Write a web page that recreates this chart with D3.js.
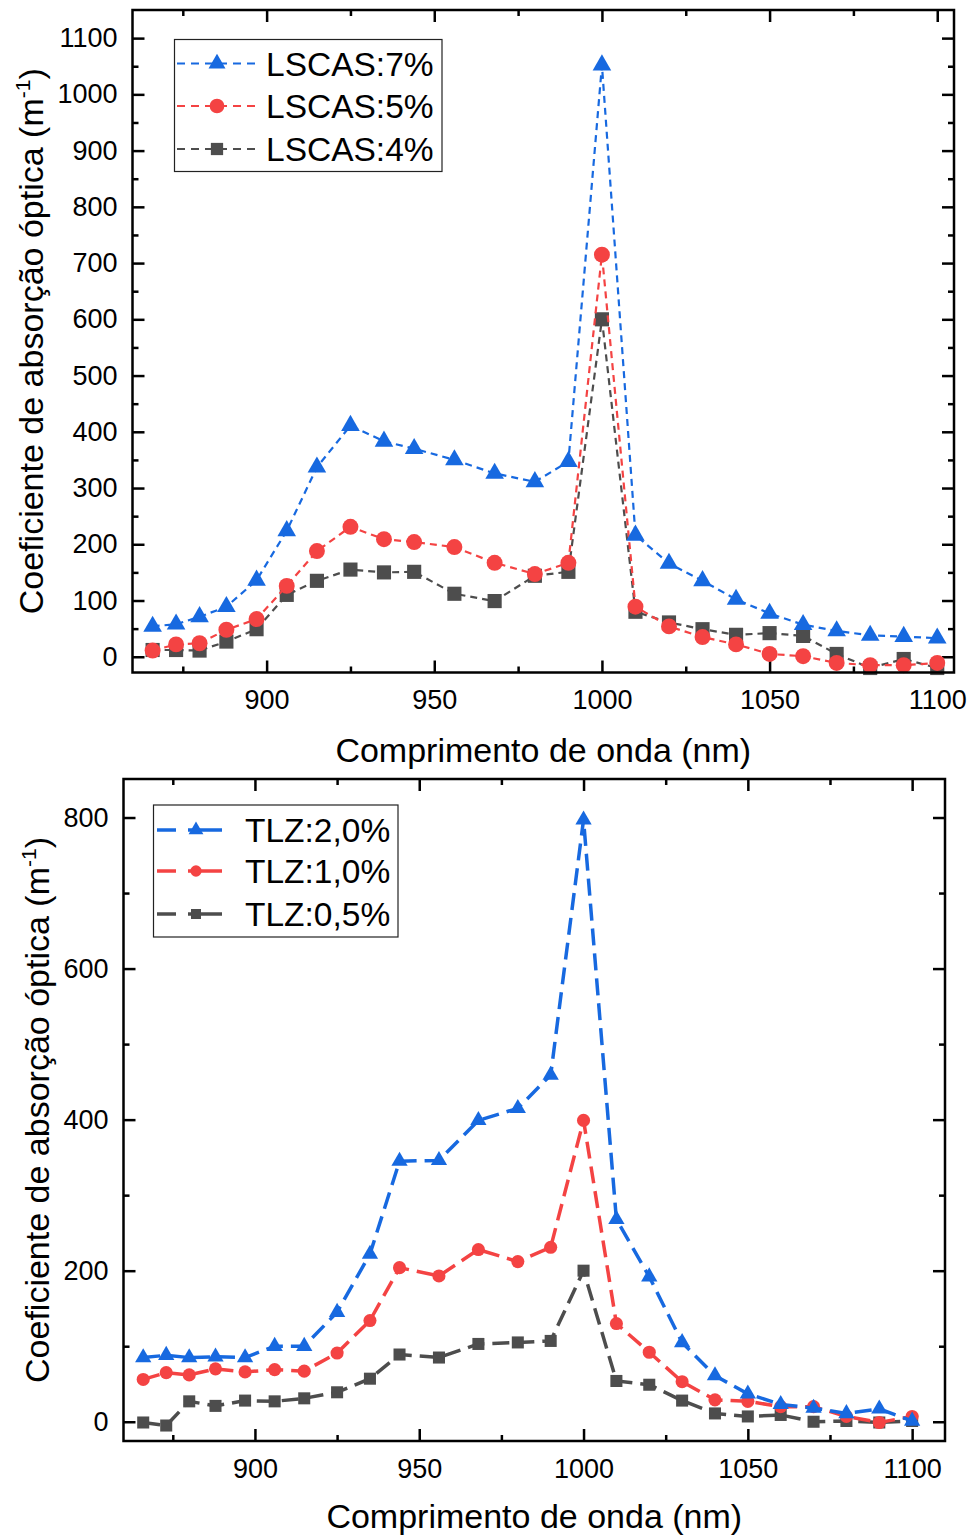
<!DOCTYPE html>
<html lang="pt">
<head>
<meta charset="UTF-8">
<title>Coeficiente de absorção óptica</title>
<script src="https://d3js.org/d3.v7.min.js"></script>
<style>
  body { margin: 0; background: #fff; }
  svg { display: block; font-family: "Liberation Sans", Arial, sans-serif; }
  .tick text { font-family: "Liberation Sans", Arial, sans-serif; }
</style>
</head>
<body>
<svg id="chart"></svg>
<script>
const width = 973, height = 1539;

// ==== data ====
const wavelengths = [866, 873, 880, 888, 897, 906, 915, 925, 935, 944, 956, 968, 980, 990,
  1000, 1010, 1020, 1030, 1040, 1050, 1060, 1070, 1080, 1090, 1100];

const lscasNames = ["LSCAS:7%", "LSCAS:5%", "LSCAS:4%"];
const lscas7 = [54, 58, 71, 89, 136, 224, 337, 411, 383, 370, 350, 326, 311, 347,
  1052, 216, 166, 135, 102, 77, 57, 46, 38, 36, 33];
const lscas5 = [11, 22, 24, 48, 67, 126, 188, 231, 209, 204, 195, 167, 147, 167,
  715, 89, 54, 35, 22, 5, 1, -11, -15, -15, -11];
const lscas4 = [12, 12, 11, 27, 49, 110, 135, 155, 150, 151, 112, 99, 144, 151,
  600, 80, 61, 49, 39, 42, 37, 5, -20, -4, -20];

const tlzNames = ["TLZ:2,0%", "TLZ:1,0%", "TLZ:0,5%"];
const tlz20 = [85, 88, 85, 86, 85, 100, 100, 145, 222, 345, 346, 399, 415, 459,
  797, 268, 192, 105, 61, 37, 23, 18, 11, 17, 1];
const tlz10 = [56, 65, 62, 70, 66, 69, 67, 91, 134, 204, 193, 228, 212, 231,
  399, 130, 92, 53, 29, 27, 20, 20, 7, -1, 7];
const tlz05 = [-1, -5, 27, 21, 28, 27, 31, 39, 57, 89, 85, 103, 105, 107,
  200, 54, 49, 28, 11, 7, 9, 0, 1, -1, 1];

const xTicks = [900, 950, 1000, 1050, 1100];
const xMinorTicks = [875, 925, 975, 1025, 1075];
const topYTicks = [0, 100, 200, 300, 400, 500, 600, 700, 800, 900, 1000, 1100];
const bottomYTicks = [0, 200, 400, 600, 800];

const xTitle = "Comprimento de onda (nm)";
const yTitle = "Coeficiente de absorção óptica (m";

// series styling (blue, red, gray) and marker shapes
const colors = ["#1769e0", "#f44343", "#4d4d4d"];
const shapes = [d3.symbolTriangle, d3.symbolCircle, d3.symbolSquare];

const svg = d3.select("#chart").attr("width", width).attr("height", height);
svg.append("rect").attr("width", width).attr("height", height).attr("fill", "#fff");

function drawPanel(p) {
  const x = d3.scaleLinear().domain(p.xDomain).range([p.left, p.right]);
  const y = d3.scaleLinear().domain(p.yDomain).range([p.bottom, p.top]);
  const g = svg.append("g");
  const fmt = d3.format("d");

  const style = sel => {
    sel.select(".domain").remove();
    sel.selectAll("line").attr("stroke", "#000").attr("stroke-width", 2.5);
    sel.selectAll("text").attr("font-size", 27).attr("fill", "#000");
  };

  // bottom axis (labels) + minor ticks
  g.append("g").attr("transform", `translate(0,${p.bottom})`)
    .call(d3.axisBottom(x).tickValues(xTicks).tickSize(-12).tickPadding(17.5).tickFormat(fmt))
    .call(style);
  g.append("g").attr("transform", `translate(0,${p.bottom})`)
    .call(d3.axisBottom(x).tickValues(xMinorTicks).tickSize(-6).tickFormat(""))
    .call(style);
  // top mirror
  g.append("g").attr("transform", `translate(0,${p.top})`)
    .call(d3.axisTop(x).tickValues(xTicks).tickSize(-12).tickFormat(""))
    .call(style);
  g.append("g").attr("transform", `translate(0,${p.top})`)
    .call(d3.axisTop(x).tickValues(xMinorTicks).tickSize(-6).tickFormat(""))
    .call(style);

  // left axis + minor
  g.append("g").attr("transform", `translate(${p.left},0)`)
    .call(d3.axisLeft(y).tickValues(p.yTicks).tickSize(-12).tickPadding(15).tickFormat(fmt))
    .call(style);
  g.append("g").attr("transform", `translate(${p.left},0)`)
    .call(d3.axisLeft(y).tickValues(p.yMinor).tickSize(-6).tickFormat(""))
    .call(style);
  // right mirror
  g.append("g").attr("transform", `translate(${p.right},0)`)
    .call(d3.axisRight(y).tickValues(p.yTicks).tickSize(-12).tickFormat(""))
    .call(style);
  g.append("g").attr("transform", `translate(${p.right},0)`)
    .call(d3.axisRight(y).tickValues(p.yMinor).tickSize(-6).tickFormat(""))
    .call(style);

  // series: gray first, blue on top
  const line = d3.line().x((d, i) => x(wavelengths[i])).y(d => y(d));
  for (let s = p.series.length - 1; s >= 0; s--) {
    g.append("path")
      .attr("d", line(p.series[s]))
      .attr("fill", "none")
      .attr("stroke", colors[s])
      .attr("stroke-width", p.lineWidth)
      .attr("stroke-dasharray", p.dash);
    g.selectAll(null)
      .data(p.series[s])
      .enter()
      .append("path")
      .attr("d", d3.symbol().type(shapes[s]).size(p.symSizes[s]))
      .attr("transform", (d, i) => `translate(${x(wavelengths[i])},${y(d)})`)
      .attr("fill", colors[s]);
  }

  // frame
  g.append("rect")
    .attr("x", p.left).attr("y", p.top)
    .attr("width", p.right - p.left).attr("height", p.bottom - p.top)
    .attr("fill", "none").attr("stroke", "#000").attr("stroke-width", 2.5);

  // axis titles
  g.append("text")
    .attr("x", (p.left + p.right) / 2).attr("y", p.bottom + p.xTitleOffset)
    .attr("text-anchor", "middle").attr("font-size", 34)
    .text(xTitle);

  const yt = g.append("text")
    .attr("transform", `translate(${p.yTitleX},${(p.top + p.bottom) / 2}) rotate(-90)`)
    .attr("text-anchor", "middle").attr("font-size", 34);
  yt.append("tspan").text(yTitle);
  yt.append("tspan").attr("font-size", 21).attr("dy", -13).text("-1");
  yt.append("tspan").attr("dy", 13).text(")");

  // legend
  const L = p.legend;
  g.append("rect")
    .attr("x", L.x0).attr("y", L.y0)
    .attr("width", L.x1 - L.x0).attr("height", L.y1 - L.y0)
    .attr("fill", "#fff").attr("stroke", "#222").attr("stroke-width", 1.2);
  p.names.forEach((name, s) => {
    const ry = L.rows[s];
    g.append("line")
      .attr("x1", L.lx0).attr("x2", L.lx1).attr("y1", ry).attr("y2", ry)
      .attr("stroke", colors[s]).attr("stroke-width", p.lineWidth)
      .attr("stroke-dasharray", L.dash);
    g.append("path")
      .attr("d", d3.symbol().type(shapes[s]).size(L.symSizes[s]))
      .attr("transform", `translate(${L.mx},${ry})`)
      .attr("fill", colors[s]);
    g.append("text")
      .attr("x", L.tx).attr("y", ry).attr("dy", "0.36em")
      .attr("font-size", L.fontSize).text(name);
  });
}

drawPanel({
  left: 132.5, right: 954, top: 10, bottom: 672.5,
  xDomain: [860, 1105], yDomain: [-28, 1150],
  yTicks: topYTicks, yMinor: d3.range(50, 1150, 100),
  series: [lscas7, lscas5, lscas4], names: lscasNames,
  lineWidth: 2.2, dash: "7,5", symSizes: [150, 200, 200],
  xTitleOffset: 89, yTitleX: 43,
  legend: {
    x0: 174.5, x1: 442, y0: 39.5, y1: 171.5, rows: [63.5, 106, 149],
    lx0: 177, lx1: 257, mx: 217, tx: 266, dash: "8,6", symSizes: [125, 170, 150],
    fontSize: 33.5
  }
});

drawPanel({
  left: 123.5, right: 945, top: 779, bottom: 1441,
  xDomain: [860, 1110], yDomain: [-25.5, 851],
  yTicks: bottomYTicks, yMinor: [100, 300, 500, 700],
  series: [tlz20, tlz10, tlz05], names: tlzNames,
  lineWidth: 3.5, dash: "17,8", symSizes: [115, 135, 145],
  xTitleOffset: 87, yTitleX: 49,
  legend: {
    x0: 153.5, x1: 398, y0: 805, y1: 937, rows: [830, 871, 914],
    lx0: 157, lx1: 222, mx: 196, tx: 245, dash: "19,12,60", symSizes: [95, 100, 100],
    fontSize: 33.5
  }
});
</script>
</body>
</html>
